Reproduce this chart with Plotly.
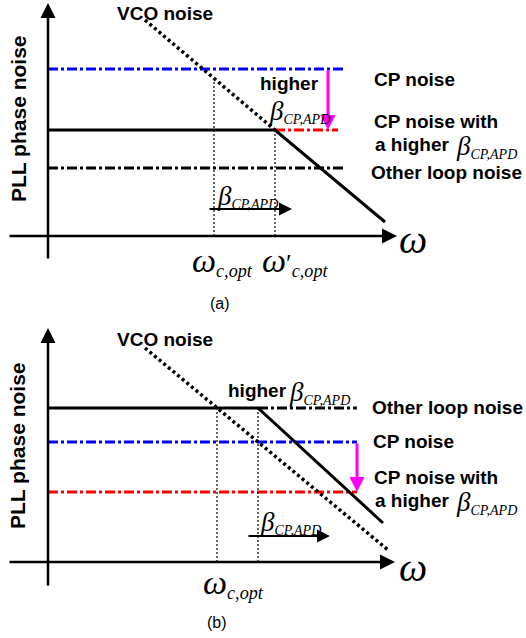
import plotly.graph_objects as go

# ---------------- panel (a): noise levels (arbitrary units, origin = axes corner) -------------
A_W_AXIS = [-40, 349]          # omega axis extent
A_PN_AXIS = [-24, 233]         # phase-noise axis extent
A_LEVEL_END = 295              # right end of the flat level lines
A_CP = 167                     # CP noise
A_CP_HIGH = 106                # CP noise with a higher beta
A_OTHER = 68                   # other loop noise
A_VCO_X = [97, 227]
A_VCO_Y = [216, 106]
A_TOTAL_X = [0, 227, 337]
A_TOTAL_Y = [106, 106, 14]
A_WC = [166, 156]              # omega_c,opt and height of its marker line
A_WC_PRIME = [227, 106]        # omega'_c,opt and height of its marker line
A_DROP_X = 280                 # magenta "higher beta" arrow
A_SHIFT = [160, 244, 27]       # beta shift arrow: x from, x to, y

# ---------------- panel (b) -----------------------------------------------------------------
B_W_AXIS = [-40, 347]
B_PN_AXIS = [-25, 234]
B_LEVEL_END = 309
B_OTHER = 154
B_CP = 120
B_CP_HIGH = 70
B_VCO_X = [97, 340]
B_VCO_Y = [214, 12]
B_TOTAL_X = [0, 210, 335]
B_TOTAL_Y = [154, 154, 39]
B_WC = [169, 154]
B_WC_SHIFT = [210, 154]
B_DROP_X = 309
B_SHIFT = [199, 282, 26]

BLUE = "#0000ff"
RED = "#ff0000"
MAGENTA = "#ff00ff"
BLACK = "#000000"
DASHDOT = "10px,3px,3px,3px"
DOTS = "3px,3px"
FINE = "2px,2px"

SANS = "Liberation Sans, Arial, sans-serif"
SERIF = "Liberation Serif, Times New Roman, serif"

fig = go.Figure()


def line(x, y, color, width, dash, ya):
    fig.add_trace(go.Scatter(
        x=x, y=y, mode="lines", yaxis=ya, hoverinfo="skip",
        line=dict(color=color, width=width, dash=dash)))


def arrow(x0, y0, x1, y1, ya, color=BLACK, width=2.5, size=1.2):
    fig.add_annotation(
        x=x1, y=y1, ax=x0, ay=y0, xref="x", yref=ya, axref="x", ayref=ya,
        showarrow=True, arrowhead=2, arrowsize=size, arrowwidth=width,
        arrowcolor=color, text="")


def label(x, y, text, ya, size, family=SANS, anchor="left", angle=0):
    fig.add_annotation(
        x=x, y=y, xref="x", yref=ya, text=text, showarrow=False,
        xanchor=anchor, yanchor="middle", textangle=angle,
        font=dict(family=family, size=size, color=BLACK))


BETA = "<i><span style='font-size:27px'>β</span></i><sub><i>CP,APD</i></sub>"
OMEGA_C = "<i><span style='font-size:34px'>ω</span></i><sub><i>c,opt</i></sub>"
OMEGA_C_PRIME = "<i><span style='font-size:34px'>ω</span></i>′<sub><i>c,opt</i></sub>"

# ------------------------------ panel (a) ------------------------------
ya = "y"
line([0, A_LEVEL_END], [A_CP, A_CP], BLUE, 3, DASHDOT, ya)
line([A_TOTAL_X[1], A_TOTAL_X[1] + 63], [A_CP_HIGH, A_CP_HIGH], RED, 3, DASHDOT, ya)
line([0, A_LEVEL_END], [A_OTHER, A_OTHER], BLACK, 3, DASHDOT, ya)
line(A_VCO_X, A_VCO_Y, BLACK, 3.5, DOTS, ya)
line(A_TOTAL_X, A_TOTAL_Y, BLACK, 3, "solid", ya)
line([A_WC[0], A_WC[0]], [0, A_WC[1]], BLACK, 1.2, FINE, ya)
line([A_WC_PRIME[0], A_WC_PRIME[0]], [0, A_WC_PRIME[1]], BLACK, 1.2, FINE, ya)
arrow(0, A_PN_AXIS[0], 0, A_PN_AXIS[1], ya)
arrow(A_W_AXIS[0], 0, A_W_AXIS[1], 0, ya)
arrow(A_DROP_X, A_CP, A_DROP_X, A_CP_HIGH, ya, MAGENTA, 3, 1.0)
arrow(A_SHIFT[0], A_SHIFT[2], A_SHIFT[1], A_SHIFT[2], ya, BLACK, 2, 1.3)

label(67, 223, "<b>VCO noise</b>", ya, 19)
label(-30, 117, "<b>PLL phase noise</b>", ya, 21, anchor="center", angle=-90)
label(324, 157, "<b>CP noise</b>", ya, 19)
label(324, 115, "<b>CP noise with</b>", ya, 19)
label(325, 92, "<b>a higher</b>", ya, 19)
label(406, 90, BETA, ya, 20, SERIF)
label(321, 64, "<b>Other loop noise</b>", ya, 19)
label(210, 153, "<b>higher</b>", ya, 19)
label(219, 125, BETA, ya, 20, SERIF)
label(167, 40, BETA, ya, 20, SERIF)
label(349, -3, "<i>ω</i>", ya, 40, SERIF)
label(142, -25, OMEGA_C, ya, 26, SERIF)
label(212, -25, OMEGA_C_PRIME, ya, 26, SERIF)
label(172, -67, "(a)", ya, 16, anchor="center")

# ------------------------------ panel (b) ------------------------------
yb = "y2"
line([B_TOTAL_X[1], B_LEVEL_END], [B_OTHER, B_OTHER], BLACK, 3, DASHDOT, yb)
line([0, B_LEVEL_END], [B_CP, B_CP], BLUE, 3, DASHDOT, yb)
line([0, B_LEVEL_END], [B_CP_HIGH, B_CP_HIGH], RED, 3, DASHDOT, yb)
line(B_VCO_X, B_VCO_Y, BLACK, 3.5, DOTS, yb)
line(B_TOTAL_X, B_TOTAL_Y, BLACK, 3, "solid", yb)
line([B_WC[0], B_WC[0]], [0, B_WC[1]], BLACK, 1.2, FINE, yb)
line([B_WC_SHIFT[0], B_WC_SHIFT[0]], [0, B_WC_SHIFT[1]], BLACK, 1.2, FINE, yb)
arrow(0, B_PN_AXIS[0], 0, B_PN_AXIS[1], yb)
arrow(B_W_AXIS[0], 0, B_W_AXIS[1], 0, yb)
arrow(B_DROP_X, B_CP, B_DROP_X, B_CP_HIGH, yb, MAGENTA, 3, 1.0)
arrow(B_SHIFT[0], B_SHIFT[2], B_SHIFT[1], B_SHIFT[2], yb, BLACK, 2, 1.3)

label(67, 222, "<b>VCO noise</b>", yb, 19)
label(-30, 116, "<b>PLL phase noise</b>", yb, 21, anchor="center", angle=-90)
label(178, 171, "<b>higher</b>", yb, 19)
label(239, 169, BETA, yb, 20, SERIF)
label(322, 154, "<b>Other loop noise</b>", yb, 19)
label(323, 120, "<b>CP noise</b>", yb, 19)
label(324, 84, "<b>CP noise with</b>", yb, 19)
label(325, 61, "<b>a higher</b>", yb, 19)
label(406, 59, BETA, yb, 20, SERIF)
label(210, 40, BETA, yb, 20, SERIF)
label(349, -5, "<i>ω</i>", yb, 40, SERIF)
label(153, -21, OMEGA_C, yb, 26, SERIF)
label(169, -60, "(b)", yb, 16, anchor="center")

split = 1 - 320 / 638
hidden = dict(visible=False, showgrid=False, zeroline=False, fixedrange=True)
fig.update_layout(
    width=526, height=638, autosize=False,
    margin=dict(l=0, r=0, t=0, b=0, pad=0),
    paper_bgcolor="white", plot_bgcolor="white", showlegend=False,
    xaxis=dict(range=[-48, 478], domain=[0, 1], **hidden),
    yaxis=dict(range=[-84, 236], domain=[split, 1], anchor="x", **hidden),
    yaxis2=dict(range=[-76, 242], domain=[0, split], anchor="x", **hidden),
)

fig.write_html("out.html", config={"displayModeBar": False})
